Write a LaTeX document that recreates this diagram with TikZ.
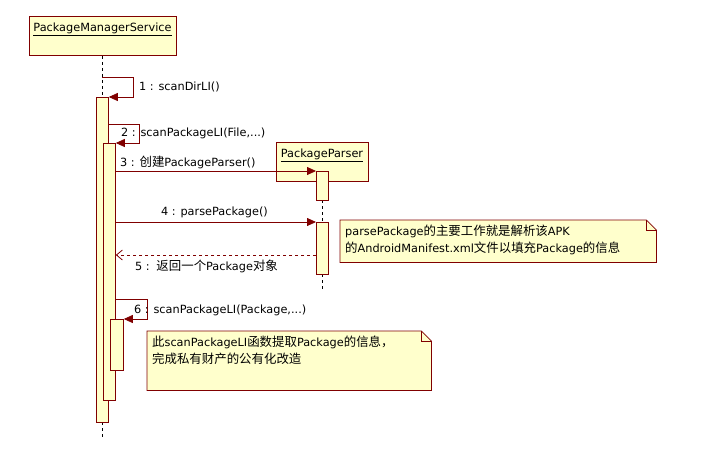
\documentclass[tikz,border=0pt]{standalone}
\usepackage{fontspec}
\setmainfont{DejaVu Sans}
\newfontfamily\cjk[Scale=1.1]{Noto Sans CJK SC}
\usetikzlibrary{arrows.meta}
\definecolor{dred}{RGB}{128,0,0}
\definecolor{lyel}{RGB}{255,255,204}
\begin{document}
\begin{tikzpicture}[x=1pt,y=-1pt,
  every node/.style={font=\fontsize{11.3}{17}\selectfont},
  obj/.style={draw=dred,fill=lyel,line width=0.8pt,anchor=north west,inner sep=0pt},
  act/.style={draw=dred,fill=lyel,line width=0.8pt,anchor=north west,inner sep=0pt,minimum width=12pt},
  msg/.style={draw=dred,line width=0.8pt,-{Triangle[length=9pt,width=8pt]}},
  ret/.style={draw=dred,line width=0.8pt,dashed,-{Straight Barb[length=6pt,width=10pt]}},
  life/.style={draw=black,line width=0.6pt,dash pattern=on 3pt off 3pt},
  lbl/.style={anchor=west,inner sep=0pt},
  notebox/.style={anchor=north west,inner sep=0pt},
  notetext/.style={anchor=north west,inner sep=5pt,align=left}]
\useasboundingbox (0,0) rectangle (702,448);
\fill[white] (0,0) rectangle (702,448);

% objects
\node[obj,minimum width=147pt,minimum height=39pt] (pms) at (29,16) {};
\node (pmsT) at (102.5,29) {\underline{PackageManagerService}};
\node[obj,minimum width=92pt,minimum height=39pt] (pp) at (276,142) {};
\node (ppT) at (322,155) {\underline{PackageParser}};

% lifelines
\coordinate (pmsEnd) at (102,438);
\coordinate (ppEnd) at (322,292);
\draw[life] (pms.south -| 102,0) -- (102,97);
\draw[life] (102,422) -- (pmsEnd);
\draw[life] (322,200) -- (322,222);
\draw[life] (322,274) -- (ppEnd);

% activations
\node[act,minimum height=325pt] (a1) at (96,97) {};
\node[act,minimum height=257pt] (a2) at (103,143) {};
\node[act,minimum width=13pt,minimum height=51pt] (a3) at (110,319) {};
\node[act,minimum height=29pt] (pa1) at (316,171) {};
\node[act,minimum height=52pt] (pa2) at (316,222) {};

% message 1 (self)
\coordinate (m1a) at (102,77);
\draw[msg] (m1a) -- (133,77) -- (133,97) -- (a1.north east);
\node[lbl] (l1) at (139,87) {1 : scanDirLI()};

% message 2
\draw[msg] (a1.east |- 0,124) -- (139,124) -- (139,143) -- (a2.north east);
\node[lbl] (l2) at (121,133) {2 : scanPackageLI(File,...)};

% message 3
\draw[msg] (a2.east |- 0,171) -- (pa1.north west);
\node[lbl] (l3) at (120,162) {3 : {\cjk 创建}PackageParser()};

% message 4
\draw[msg] (a2.east |- 0,222) -- (pa2.north west);
\node[lbl] (l4) at (161,212) {4 : parsePackage()};

% message 5 return
\draw[ret] (pa2.west |- 0,255) -- (a2.east |- 0,255);
\node[lbl] (l5) at (135,266) {5 :\, {\cjk 返回一个}Package{\cjk 对象}};

% message 6
\draw[msg] (a2.east |- 0,299) -- (147,299) -- (147,319) -- (a3.north east);
\node[lbl] (l6) at (134,310) {6 : scanPackageLI(Package,...)};

% notes
\node[notebox,minimum width=316pt,minimum height=42pt] (n1) at (340,220) {};
\node[notebox,minimum width=284pt,minimum height=59pt] (n2) at (147,331) {};
\foreach \n in {n1,n2}{
  \filldraw[draw=dred,fill=lyel,line width=0.8pt] (\n.north west) -- ([xshift=-10pt]\n.north east) -- ([yshift=-10pt]\n.north east) -- (\n.south east) -- (\n.south west) -- cycle;
  \draw[dred,line width=0.6pt] ([xshift=-10pt]\n.north east) -- ([xshift=-10pt,yshift=-10pt]\n.north east) -- ([yshift=-10pt]\n.north east);
}
\node[notetext] (t1) at (n1.north west)
  {parsePackage{\cjk 的主要工作就是解析该}APK\\{\cjk 的}AndroidManifest.xml{\cjk 文件以填充}Package{\cjk 的信息}};
\node[notetext] (t2) at (n2.north west)
  {{\cjk 此}scanPackageLI{\cjk 函数提取}Package{\cjk 的信息，}\\{\cjk 完成私有财产的公有化改造}};
\end{tikzpicture}
\end{document}
